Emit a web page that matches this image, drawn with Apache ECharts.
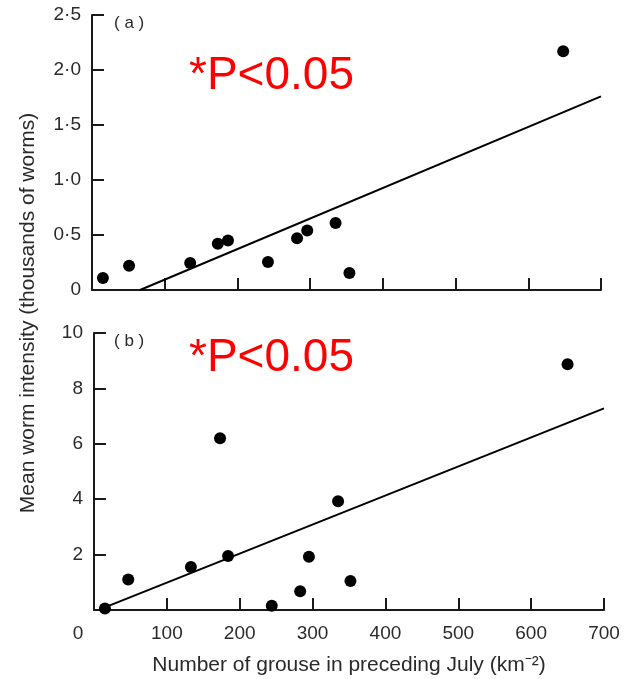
<!DOCTYPE html>
<html><head><meta charset="utf-8">
<script src="https://cdn.jsdelivr.net/npm/echarts@6/dist/echarts.min.js"></script>
<style>html,body{margin:0;padding:0;background:#fff}#c{width:628px;height:679px}</style>
</head><body><div id="c"></div>
<script>
// Panel (a): thousands of worms
const grouseA = [15, 51, 135, 173, 187, 242, 282, 296, 335, 354, 648];
const wormsA  = [0.11, 0.22, 0.245, 0.42, 0.45, 0.255, 0.47, 0.54, 0.61, 0.155, 2.17];
const fitAx = [66, 700];
const fitAy = [0, 1.76];
// Panel (b)
const grouseB = [15, 47, 133, 173, 184, 244, 283, 295, 335, 352, 650];
const wormsB  = [0.05, 1.1, 1.55, 6.2, 1.95, 0.15, 0.68, 1.92, 3.93, 1.05, 8.87];
const fitBx = [20, 700];
const fitBy = [0.15, 7.28];

const xTicks = [0, 100, 200, 300, 400, 500, 600, 700];
const yTicksA = [0, 0.5, 1.0, 1.5, 2.0, 2.5];
const yTicksB = [0, 2, 4, 6, 8, 10];
const sigText = '*P<0.05';

const ink = '#1a1a1a';
const lblFont = 'Liberation Sans';
const pts = (xs, ys) => xs.map((x, i) => [x, ys[i]]);

const chart = echarts.init(document.getElementById('c'), null, {renderer: 'canvas'});

function xAx(gi, showLabels) {
  return {
    type: 'value', gridIndex: gi, min: xTicks[0], max: xTicks[xTicks.length - 1], interval: 100,
    splitLine: {show: false},
    axisLine: {show: true, onZero: false, lineStyle: {color: ink, width: 2}},
    axisTick: {show: true, inside: true, length: 12, lineStyle: {color: ink, width: 2}},
    axisLabel: {
      show: showLabels, margin: 14, color: '#2a2a2a', fontFamily: lblFont, fontSize: 19,
      formatter: v => v === 0 ? '{z|0}' : String(v),
      rich: {z: {fontSize: 19, color: '#2a2a2a', fontFamily: lblFont, padding: [0, 32, 0, 0]}}
    }
  };
}
function yAx(gi, ticks, fmt) {
  return {
    type: 'value', gridIndex: gi, min: ticks[0], max: ticks[ticks.length - 1],
    interval: ticks[1] - ticks[0],
    splitLine: {show: false},
    axisLine: {show: true, onZero: false, lineStyle: {color: ink, width: 2}},
    axisTick: {show: true, inside: true, length: 12, lineStyle: {color: ink, width: 2}},
    axisLabel: {show: true, margin: 11, color: '#2a2a2a', fontFamily: lblFont, fontSize: 19, formatter: fmt}
  };
}

chart.setOption({
  animation: false,
  backgroundColor: '#fff',
  grid: [
    {left: 92, right: 27, top: 15, height: 275},
    {left: 94, right: 24, top: 333, height: 277}
  ],
  xAxis: [
    xAx(0, false),
    Object.assign(xAx(1, true), {
      name: 'Number of grouse in preceding July (km⁻²)', nameLocation: 'middle', nameGap: 45,
      nameTextStyle: {color: '#2a2a2a', fontFamily: lblFont, fontSize: 21}
    })
  ],
  yAxis: [
    yAx(0, yTicksA, v => v === 0 ? '0' : v.toFixed(1).replace('.', '·')),
    yAx(1, yTicksB, v => v === 0 ? '' : String(v))
  ],
  series: [
    {type: 'scatter', xAxisIndex: 0, yAxisIndex: 0, data: pts(grouseA, wormsA),
     symbolSize: 12, itemStyle: {color: '#000', opacity: 1}},
    {type: 'line', xAxisIndex: 0, yAxisIndex: 0, data: pts(fitAx, fitAy),
     symbol: 'none', lineStyle: {color: '#000', width: 2}},
    {type: 'scatter', xAxisIndex: 1, yAxisIndex: 1, data: pts(grouseB, wormsB),
     symbolSize: 12, itemStyle: {color: '#000', opacity: 1}},
    {type: 'line', xAxisIndex: 1, yAxisIndex: 1, data: pts(fitBx, fitBy),
     symbol: 'none', lineStyle: {color: '#000', width: 2}}
  ],
  graphic: [
    {type: 'text', left: 114, top: 15, style: {text: '( a )', fontSize: 17, fontFamily: lblFont, fill: '#2a2a2a'}},
    {type: 'text', left: 114, top: 333, style: {text: '( b )', fontSize: 17, fontFamily: lblFont, fill: '#2a2a2a'}},
    {type: 'text', left: 189, top: 53, style: {text: sigText, fontSize: 46, fontFamily: 'Liberation Sans', fill: '#ff0000'}},
    {type: 'text', left: 189, top: 335, style: {text: sigText, fontSize: 46, fontFamily: 'Liberation Sans', fill: '#ff0000'}},
    {type: 'text', x: 28, y: 313, rotation: Math.PI / 2,
     style: {text: 'Mean worm intensity (thousands of worms)', fontSize: 21, fontFamily: lblFont,
             fill: '#2a2a2a', align: 'center', verticalAlign: 'middle'}}
  ]
});
</script></body></html>
